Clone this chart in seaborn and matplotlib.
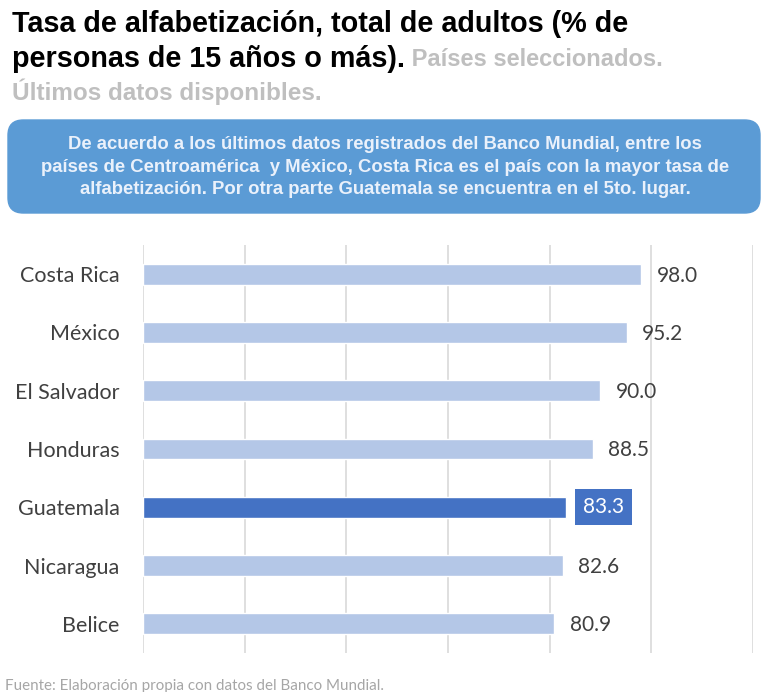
import matplotlib
matplotlib.use("Agg")
import matplotlib.pyplot as plt
import seaborn as sns
import pandas as pd
from matplotlib.patches import FancyBboxPatch

# data
paises = ["Costa Rica", "México", "El Salvador", "Honduras", "Guatemala", "Nicaragua", "Belice"]
tasa = [98.0, 95.2, 90.0, 88.5, 83.3, 82.6, 80.9]
resaltado = "Guatemala"

df = pd.DataFrame({"pais": paises, "tasa": tasa})

sns.set_theme(style="white")
plt.rcParams["font.family"] = ["Lato", "DejaVu Sans"]

claro = "#B4C7E7"
oscuro = "#4472C4"
colores = [oscuro if p == resaltado else claro for p in paises]

fig = plt.figure(figsize=(7.62, 6.92), dpi=100)
ax = fig.add_axes([143 / 762, 1 - 653 / 692, (753 - 143) / 762, 408 / 692])

sns.barplot(data=df, y="pais", x="tasa", hue="pais", palette=colores,
            legend=False, width=0.36, saturation=1, ax=ax)

ax.set_xlim(0, 120)
ax.set_ylim(6.5, -0.5)
ax.set_xticks(range(0, 121, 20))
ax.set_xticklabels([])
ax.xaxis.grid(True, color="#D9D9D9", linewidth=1.2)
ax.set_axisbelow(True)
sns.despine(ax=ax, left=True, bottom=True, top=True, right=True)
ax.set_xlabel("")
ax.set_ylabel("")
ax.tick_params(axis="y", length=0, pad=17, labelsize=15.5, labelcolor="#404040")
ax.tick_params(axis="x", length=0)

# etiquetas de valores
for i, (p, v) in enumerate(zip(paises, tasa)):
    if p == resaltado:
        ax.annotate(f"{v:.1f}", (v, i), xytext=(12, 0), textcoords="offset points",
                    va="center", ha="left", fontsize=15, color="white",
                    bbox=dict(boxstyle="square,pad=0.38", fc=oscuro, ec="none"))
    else:
        ax.annotate(f"{v:.1f}", (v, i), xytext=(11, -1), textcoords="offset points",
                    va="center", ha="left", fontsize=15, color="#404040")

# titulo
tf = ["Liberation Sans", "DejaVu Sans"]
fig.text(12 / 762, 1 - 24 / 692, "Tasa de alfabetización, total de adultos (% de",
         fontsize=20.7, fontweight="bold", family=tf, va="center", color="black")
t2 = fig.text(12 / 762, 1 - 59 / 692, "personas de 15 años o más).",
              fontsize=20.7, fontweight="bold", family=tf, va="center", color="black")
ax.annotate(" Países seleccionados.", xy=(1, 0.08), xycoords=t2, va="bottom", ha="left",
            fontsize=17, fontweight="bold", family=tf, color="#BFBFBF")
fig.text(12 / 762, 1 - 92 / 692, "Últimos datos disponibles.",
         fontsize=17.5, fontweight="bold", family=tf, va="center", color="#BFBFBF")

# recuadro
caja = FancyBboxPatch((8 / 762, 1 - 213 / 692), (752 / 762), 93 / 692,
                      boxstyle="round,pad=0,rounding_size=0.02",
                      transform=fig.transFigure, fc="#5B9BD5", ec="#5B9BD5",
                      mutation_aspect=762 / 692)
fig.add_artist(caja)
fig.text(385 / 762, 1 - 167 / 692,
         "De acuerdo a los últimos datos registrados del Banco Mundial, entre los\n"
         "países de Centroamérica  y México, Costa Rica es el país con la mayor tasa de\n"
         "alfabetización. Por otra parte Guatemala se encuentra en el 5to. lugar.",
         ha="center", va="center", fontsize=13.3, fontweight="bold", family=tf,
         color="#EAF1FB", linespacing=1.45)

fig.text(5 / 762, 1 - 686 / 692, "Fuente: Elaboración propia con datos del Banco Mundial.",
         fontsize=10.9, color="#A6A6A6", va="center", ha="left")

fig.savefig("out.png", dpi=100)
